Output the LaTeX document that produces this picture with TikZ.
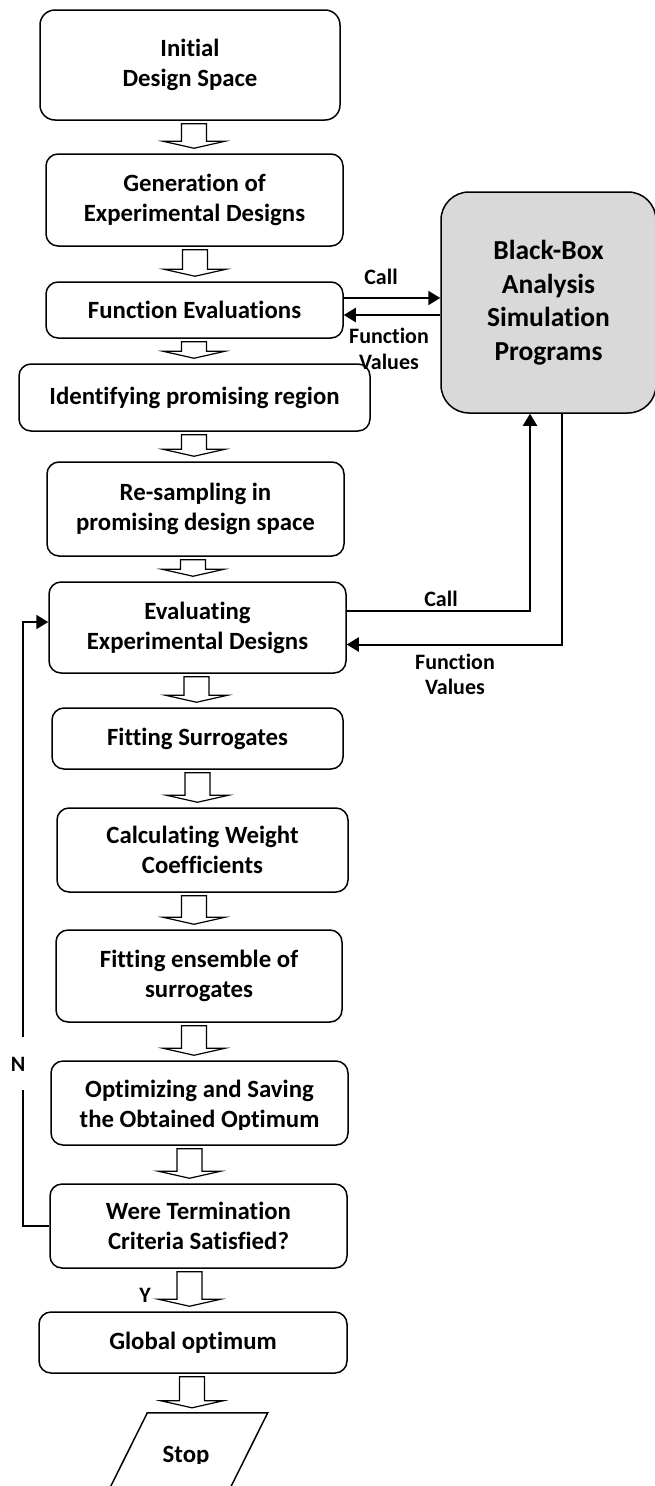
\documentclass[tikz,border=0pt]{standalone}
\usepackage{fontspec}
\setmainfont{Carlito}[Ligatures={NoCommon}]
\usetikzlibrary{arrows.meta,calc}
\tikzset{
  box/.style={draw, line width=1.5pt, rounded corners=12pt, align=center,
    font=\fontsize{24.8}{30}\selectfont\bfseries, inner sep=0pt},
  boxtext/.style={align=center, font=\fontsize{24.8}{30}\selectfont\bfseries, inner sep=0pt},
  bbox/.style={draw, line width=1.5pt, rounded corners=28pt, fill=black!15, align=center,
    font=\fontsize{27.5}{33.5}\selectfont\bfseries, inner sep=0pt},
  lbl/.style={font=\fontsize{22}{26}\selectfont\bfseries, inner sep=0pt, anchor=base},
  conn/.style={line width=2pt, -{Triangle[length=12pt,width=14pt]}},
  plain/.style={line width=2pt},
  blockar/.style={draw, line width=1.2pt, fill=white, line join=miter},
}
\newcommand\blk[3]{%
  \path[blockar] let \p1=(#1.south), \p2=(#2.north) in
    ({#3pt-12.5pt},{\y1-3pt}) -- ({#3pt+12.5pt},{\y1-3pt}) -- ({#3pt+12.5pt},{\y2+12pt})
    -- ({#3pt+31pt},{\y2+12pt}) -- ({#3pt},{\y2+5pt}) -- ({#3pt-31pt},{\y2+12pt})
    -- ({#3pt-12.5pt},{\y2+12pt}) -- cycle;}
\begin{document}
\begin{tikzpicture}[x=1pt,y=-1pt]
\useasboundingbox (0,0) rectangle (654,1486);
% main column
\node[box, minimum width=300, minimum height=110, rounded corners=15pt] (init) at (190,65) {Initial\\Design Space};
\node[box, minimum width=297, minimum height=92] (gen) at (194.5,200) {Generation of\\Experimental Designs};
\node[box, minimum width=297, minimum height=56] (fe) at (194.5,310) {Function Evaluations};
\node[box, minimum width=351, minimum height=67] (ident) at (194.5,397.5) {Identifying promising region};
\node[box, minimum width=297, minimum height=94] (resamp) at (195.5,509) {Re-sampling in\\promising design space};
\node[box, minimum width=297, minimum height=91] (evalx) at (197.5,627.5) {Evaluating\\Experimental Designs};
\node[box, minimum width=291, minimum height=61] (fit) at (197.5,738.5) {Fitting Surrogates};
\node[box, minimum width=291, minimum height=84] (calc) at (202.5,850) {Calculating Weight\\Coefficients};
\node[box, minimum width=286, minimum height=92] (ens) at (199,976) {Fitting ensemble of\\surrogates};
\node[box, minimum width=297, minimum height=84] (opt) at (199.5,1103) {};
\begin{scope}
  \clip (0,1000) rectangle (654,1129);
  \node[boxtext] (optt) at (199.5,1106) {Optimizing and Saving\\the Obtained Optimum};
\end{scope}
\node[box, minimum width=297, minimum height=84] (term) at (198.5,1226) {Were Termination\\Criteria Satisfied?};
\node[box, minimum width=308, minimum height=61] (glob) at (193,1342.5) {Global optimum};
\begin{scope}
  \clip (0,1380) rectangle (654,1463);
  \node[boxtext, minimum width=120, minimum height=86] (stop) at (186,1456) {Stop};
\end{scope}
\draw[line width=1.5pt] ($(stop.north west)+(21.5,0)$) -- ($(stop.north east)+(21.5,0)$)
  -- ($(stop.south east)+(-21.5,0)$) -- ($(stop.south west)+(-21.5,0)$) -- cycle;

% black box
\node[bbox, minimum width=215, minimum height=221] (bb) at (548.5,302.5) {Black-Box\\Analysis\\Simulation\\Programs};

% block arrows
\blk{init}{gen}{194}
\blk{gen}{fe}{195}
\blk{fe}{ident}{194}
\blk{ident}{resamp}{194}
\blk{resamp}{evalx}{193}
\blk{evalx}{fit}{196.5}
\blk{fit}{calc}{197.5}
\blk{calc}{ens}{194}
\blk{ens}{opt}{194}
\blk{opt}{term}{189.5}
\blk{term}{glob}{189.5}
\blk{glob}{stop}{192}

% calls to black box (function evaluations)
\coordinate (c1) at ($(fe.east)+(0,-12)$);
\coordinate (r1) at ($(fe.east)+(0,5)$);
\draw[conn] (c1) -- (c1 -| bb.west);
\draw[conn] (r1 -| bb.west) -- (r1);
\node[lbl] (call1) at (381,284) {Call};
\node[lbl] (fv1a) at (389,343) {Function};
\node[lbl] (fv1b) at (389,369) {Values};

% calls to black box (evaluating)
\coordinate (c2) at ($(evalx.east)+(0,-17)$);
\coordinate (bc) at ($(bb.south)+(-18.5,0)$);
\draw[conn] (c2) -| (bc);
\coordinate (r2) at ($(evalx.east)+(0,17)$);
\coordinate (bv) at ($(bb.south)+(13.5,0)$);
\draw[conn] (bv) |- (r2);
\node[lbl] (call2) at (441,606) {Call};
\node[lbl] (fv2a) at (455,669) {Function};
\node[lbl] (fv2b) at (455,694) {Values};

% loop back
\coordinate (lp) at (23,622);
\coordinate (lb) at (23,1090);
\coordinate (lt) at (23,1037);
\draw[plain] (term.west) -| (lb);
\draw[conn] (lt) -- (lp) -- (lp -| evalx.west);
\node[lbl] (nlab) at (18,1071) {N};
\node[lbl] (ylab) at (145,1302) {Y};
\end{tikzpicture}
\end{document}
